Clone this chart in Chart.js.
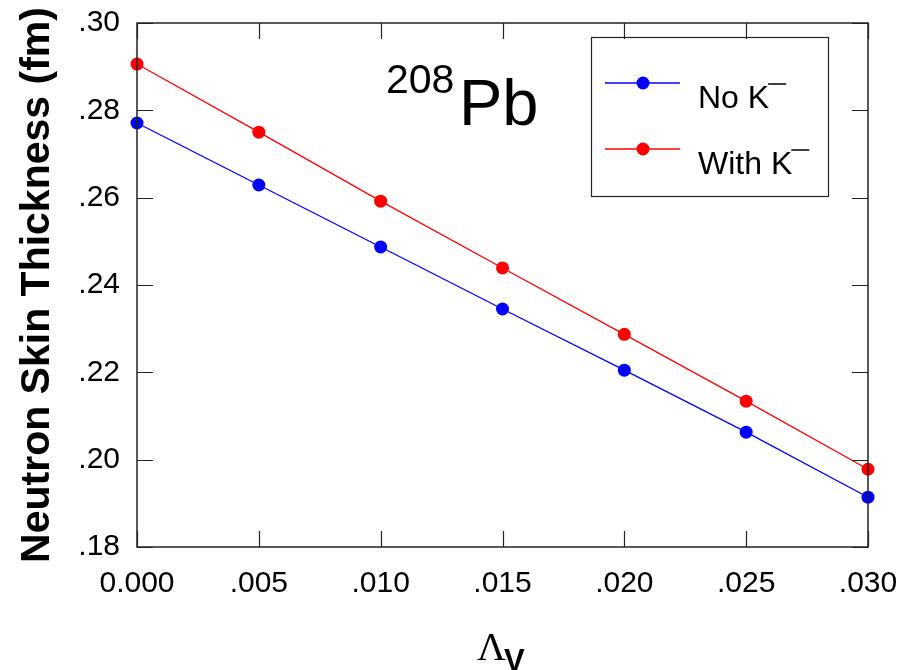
<!DOCTYPE html>
<html>
<head>
<meta charset="utf-8">
<script src="https://cdn.jsdelivr.net/npm/chart.js@4.4.1/dist/chart.umd.min.js"></script>
<style>
  html, body { margin: 0; padding: 0; background: #fff; }
  #wrap { width: 914px; height: 670px; }
</style>
</head>
<body>
<div id="wrap"><canvas id="skinChart" width="914" height="670"></canvas></div>
<script>
// Data
const lambdaV = [0.000, 0.005, 0.010, 0.015, 0.020, 0.025, 0.030];
const noKaon = [0.2771, 0.2629, 0.2487, 0.2345, 0.2205, 0.2063, 0.1914];
const withKaon = [0.2906, 0.2750, 0.2592, 0.2439, 0.2287, 0.2134, 0.1978];
const xTicks = [0.000, 0.005, 0.010, 0.015, 0.020, 0.025, 0.030];
const yTicks = [0.18, 0.20, 0.22, 0.24, 0.26, 0.28, 0.30];
const seriesNames = ["No K", "With K"];

const FONT = "'Liberation Sans', Arial, sans-serif";

function fmtX(v) {
  if (Math.abs(v) < 1e-9) return "0.000";
  return v.toFixed(3).replace(/^0/, "");
}
function fmtY(v) {
  return v.toFixed(2).replace(/^0/, "");
}

function toPoints(xs, ys) {
  return xs.map((x, i) => ({ x: x, y: ys[i] }));
}

// frame, inward ticks, annotation, legend and x title
const decorations = {
  id: "decorations",
  afterDraw(chart) {
    const ctx = chart.ctx;
    const a = chart.chartArea;
    const xs = chart.scales.x;
    const ys = chart.scales.y;
    const tl = 16;
    ctx.save();
    ctx.strokeStyle = "#222";
    ctx.lineWidth = 1.5;
    ctx.strokeRect(a.left, a.top, a.right - a.left, a.bottom - a.top);
    ctx.beginPath();
    xTicks.forEach(v => {
      const px = Math.round(xs.getPixelForValue(v)) + 0.5;
      ctx.moveTo(px, a.bottom); ctx.lineTo(px, a.bottom - tl);
      ctx.moveTo(px, a.top); ctx.lineTo(px, a.top + tl);
    });
    yTicks.forEach(v => {
      const py = Math.round(ys.getPixelForValue(v)) + 0.5;
      ctx.moveTo(a.left, py); ctx.lineTo(a.left + tl, py);
      ctx.moveTo(a.right, py); ctx.lineTo(a.right - tl, py);
    });
    ctx.lineWidth = 1.2;
    ctx.stroke();

    // 208Pb label
    ctx.fillStyle = "#000";
    ctx.textBaseline = "alphabetic";
    ctx.textAlign = "left";
    ctx.font = "41px " + FONT;
    ctx.fillText("208", 386, 93);
    ctx.font = "65px " + FONT;
    ctx.fillText("Pb", 459, 125);

    // legend box
    ctx.strokeStyle = "#222";
    ctx.lineWidth = 1.2;
    ctx.strokeRect(591.5, 37.5, 237, 159);
    const entries = [
      { name: seriesNames[0], color: "#0000ff", y: 83, base: 108 },
      { name: seriesNames[1], color: "#ff0000", y: 149, base: 174 }
    ];
    entries.forEach(e => {
      ctx.strokeStyle = e.color;
      ctx.lineWidth = 1.3;
      ctx.beginPath();
      ctx.moveTo(605, e.y); ctx.lineTo(680, e.y);
      ctx.stroke();
      ctx.fillStyle = e.color;
      ctx.beginPath();
      ctx.arc(643, e.y, 6.5, 0, Math.PI * 2);
      ctx.fill();
      ctx.fillStyle = "#000";
      ctx.font = "32px " + FONT;
      ctx.fillText(e.name, 698, e.base);
      const w = ctx.measureText(e.name).width;
      // superscript minus after K
      ctx.strokeStyle = "#000";
      ctx.lineWidth = 1.5;
      ctx.beginPath();
      ctx.moveTo(698 + w - 1, e.base - 24);
      ctx.lineTo(698 + w + 17, e.base - 24);
      ctx.stroke();
    });

    // x axis title: Lambda_V
    ctx.fillStyle = "#000";
    ctx.font = "40px 'Liberation Serif', 'Times New Roman', serif";
    ctx.fillText("\u039B", 477, 660);
    ctx.font = "bold 31px " + FONT;
    ctx.fillText("V", 504, 671);
    ctx.restore();
  }
};

const chart = new Chart(document.getElementById("skinChart"), {
  type: "scatter",
  data: {
    datasets: [
      {
        label: seriesNames[0],
        data: toPoints(lambdaV, noKaon),
        borderColor: "#0000ff",
        backgroundColor: "#0000ff",
        showLine: true,
        borderWidth: 1.3,
        pointRadius: 6.5,
        pointBorderWidth: 0,
        clip: false
      },
      {
        label: seriesNames[1],
        data: toPoints(lambdaV, withKaon),
        borderColor: "#ff0000",
        backgroundColor: "#ff0000",
        showLine: true,
        borderWidth: 1.3,
        pointRadius: 6.5,
        pointBorderWidth: 0,
        clip: false
      }
    ]
  },
  options: {
    responsive: false,
    animation: false,
    devicePixelRatio: 1,
    layout: { padding: { left: 0, top: 23, right: 46, bottom: 0 } },
    plugins: {
      legend: { display: false },
      tooltip: { enabled: false }
    },
    scales: {
      x: {
        type: "linear",
        min: 0,
        max: 0.03,
        afterBuildTicks: scale => { scale.ticks = xTicks.map(v => ({ value: v })); },
        afterFit: scale => {
          scale.height = 123;
          scale.paddingLeft = 0;
          scale.paddingRight = 0;
        },
        grid: { display: false, drawTicks: false },
        border: { display: false },
        ticks: {
          padding: 19,
          color: "#000",
          font: { family: FONT, size: 30 },
          maxRotation: 0,
          callback: v => fmtX(v)
        }
      },
      y: {
        type: "linear",
        min: 0.18,
        max: 0.30,
        afterBuildTicks: scale => { scale.ticks = yTicks.map(v => ({ value: v })); },
        afterFit: scale => {
          scale.width = 137;
          scale.paddingTop = 0;
          scale.paddingBottom = 0;
        },
        grid: { display: false, drawTicks: false },
        border: { display: false },
        ticks: {
          padding: 17,
          color: "#000",
          font: { family: FONT, size: 30 },
          callback: v => fmtY(v)
        },
        title: {
          display: true,
          text: "Neutron Skin Thickness (fm)",
          color: "#000",
          font: { family: FONT, size: 41, weight: "bold" },
          padding: { top: 13, bottom: 0 }
        }
      }
    }
  },
  plugins: [decorations]
});
</script>
</body>
</html>
